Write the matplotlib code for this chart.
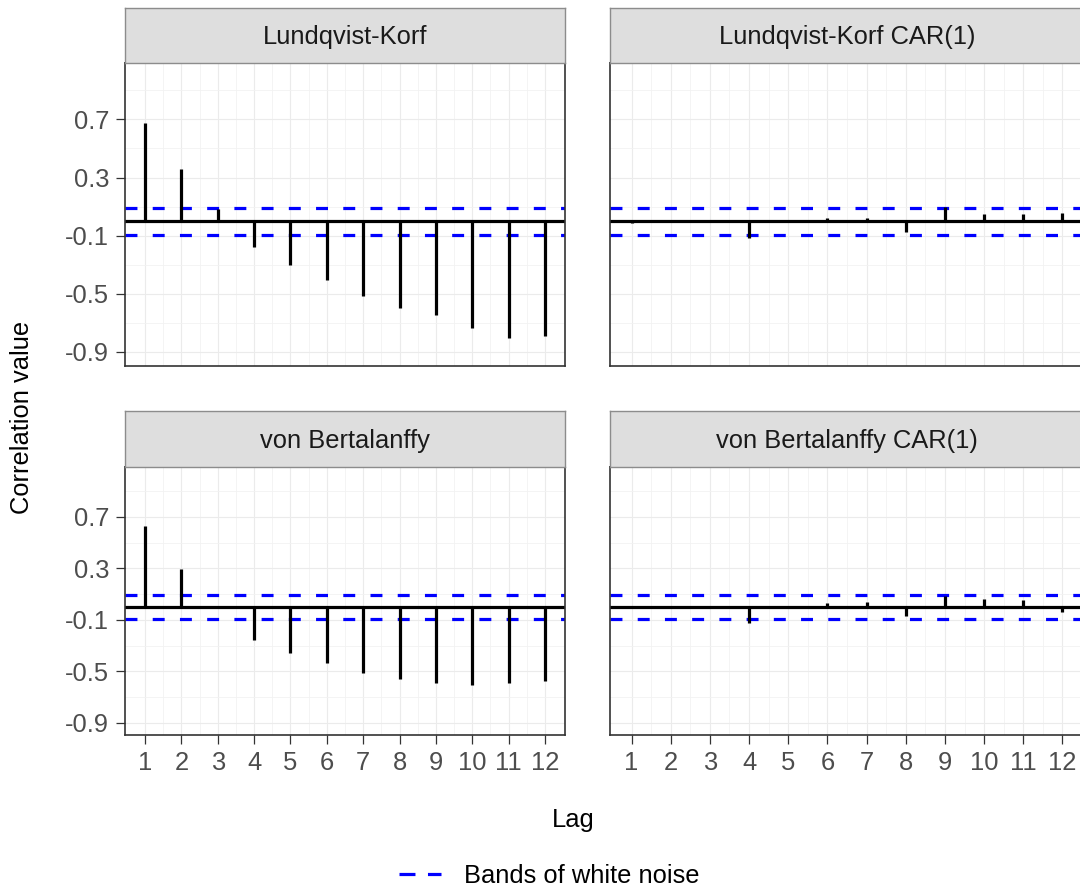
import matplotlib
matplotlib.use("Agg")
import matplotlib.pyplot as plt
from matplotlib.lines import Line2D

plt.rcParams['font.family'] = ['Liberation Sans', 'DejaVu Sans']
plt.rcParams['lines.scale_dashes'] = False

# ---- data ----
lags = list(range(1, 13))
panel_titles = ["Lundqvist-Korf", "Lundqvist-Korf CAR(1)",
                "von Bertalanffy", "von Bertalanffy CAR(1)"]
acf_lk = [0.674, 0.361, 0.082, -0.177, -0.303, -0.407, -0.513, -0.598, -0.648, -0.738, -0.805, -0.789]
acf_lk_car = [-0.015, 0.0, 0.0, -0.115, 0.0, 0.023, 0.020, -0.076, 0.099, 0.050, 0.047, 0.058]
acf_vb = [0.630, 0.294, 0.004, -0.253, -0.361, -0.439, -0.511, -0.557, -0.588, -0.606, -0.591, -0.575]
acf_vb_car = [0.0, 0.0, 0.0, -0.124, 0.0, 0.031, 0.036, -0.073, 0.086, 0.062, 0.051, -0.039]
band_upper = 0.093
band_lower = -0.093
y_ticks = [-0.9, -0.5, -0.1, 0.3, 0.7]
y_minor = [-0.7, -0.3, 0.1, 0.5, 0.9]
x_labels = [str(l) for l in lags]
legend_label = "Bands of white noise"
x_title = "Lag"
y_title = "Correlation value"

W, H = 1080, 892
DPI = 100
fig = plt.figure(figsize=(W / DPI, H / DPI), dpi=DPI)
fig.patch.set_facecolor("white")

FS = 18.4
GREY20 = "#333333"
GREY30 = "#4D4D4D"


def px_axes(x0, y0, x1, y1):
    return fig.add_axes([x0 / W, (H - y1) / H, (x1 - x0) / W, (y1 - y0) / H])


panels = [
    (acf_lk, (125, 565), (62.7, 365.7), (7.7, 62.7), True, False),
    (acf_lk_car, (610, 1084), (62.7, 365.7), (7.7, 62.7), False, False),
    (acf_vb, (125, 565), (466.7, 735), (411.3, 466.7), True, True),
    (acf_vb_car, (610, 1084), (466.7, 735), (411.3, 466.7), False, True),
]

for (vals, (x0, x1), (y0, y1), (s0, s1), show_y, show_x), title in zip(panels, panel_titles):
    ax = px_axes(x0, y0, x1, y1)
    ax.set_xlim(0.45, 12.55)
    ax.set_ylim(-0.995, 1.09)
    ax.set_xticks(lags)
    ax.set_xticks([l + 0.5 for l in lags[:-1]], minor=True)
    ax.set_yticks(y_ticks)
    ax.set_yticks(y_minor, minor=True)
    ax.grid(True, which="major", color="#EBEBEB", linewidth=0.8, zorder=0)
    ax.grid(True, which="minor", color="#F2F2F2", linewidth=0.6, zorder=0)
    ax.set_axisbelow(True)
    for sp in ax.spines.values():
        sp.set_color(GREY20)
        sp.set_linewidth(1.2)
        sp.set_zorder(5)
    ax.tick_params(which="minor", length=0)
    ax.tick_params(which="major", color=GREY20, width=0.9, length=6.5,
                   labelcolor=GREY30, labelsize=FS, pad=5)
    if show_y:
        ax.set_yticklabels([f"{v:g}" for v in y_ticks])
    else:
        ax.tick_params(axis="y", which="major", length=0, labelleft=False)
    if show_x:
        ax.set_xticklabels(x_labels)
    else:
        ax.tick_params(axis="x", which="major", length=0, labelbottom=False)

    ax.axhline(band_upper, color="#0000FF", linewidth=2.3, dashes=(8.6, 11.0), zorder=2)
    ax.axhline(band_lower, color="#0000FF", linewidth=2.3, dashes=(8.6, 11.0), zorder=2)
    ax.vlines(lags, 0, vals, color="black", linewidth=2.3, zorder=3, capstyle="butt")
    ax.axhline(0, color="black", linewidth=2.3, zorder=4)

    sax = px_axes(x0, s0, x1, s1)
    sax.set_facecolor("#DEDEDE")
    sax.set_xticks([])
    sax.set_yticks([])
    for sp in sax.spines.values():
        sp.set_color("#8C8C8C")
        sp.set_linewidth(1.0)
    sax.text(0.5, 0.47, title, transform=sax.transAxes, ha="center", va="center",
             fontsize=FS, color="#1A1A1A")

# axis titles
fig.text(573 / W, (H - 820) / H, x_title, ha="center", va="center", fontsize=FS, color="black")
fig.text(22 / W, (H - 417) / H, y_title, ha="center", va="center", rotation=90,
         fontsize=FS, color="black")

# legend
handle = Line2D([], [], color="#0000FF", linewidth=2.3, dashes=(11.5, 9.0))
fig.legend([handle], [legend_label], loc="center", bbox_to_anchor=(549 / W, (H - 876) / H),
           frameon=False, fontsize=FS, handlelength=1.65, handletextpad=0.9,
           borderpad=0, borderaxespad=0, labelcolor="black")

fig.savefig("out.png", dpi=DPI, facecolor="white")
